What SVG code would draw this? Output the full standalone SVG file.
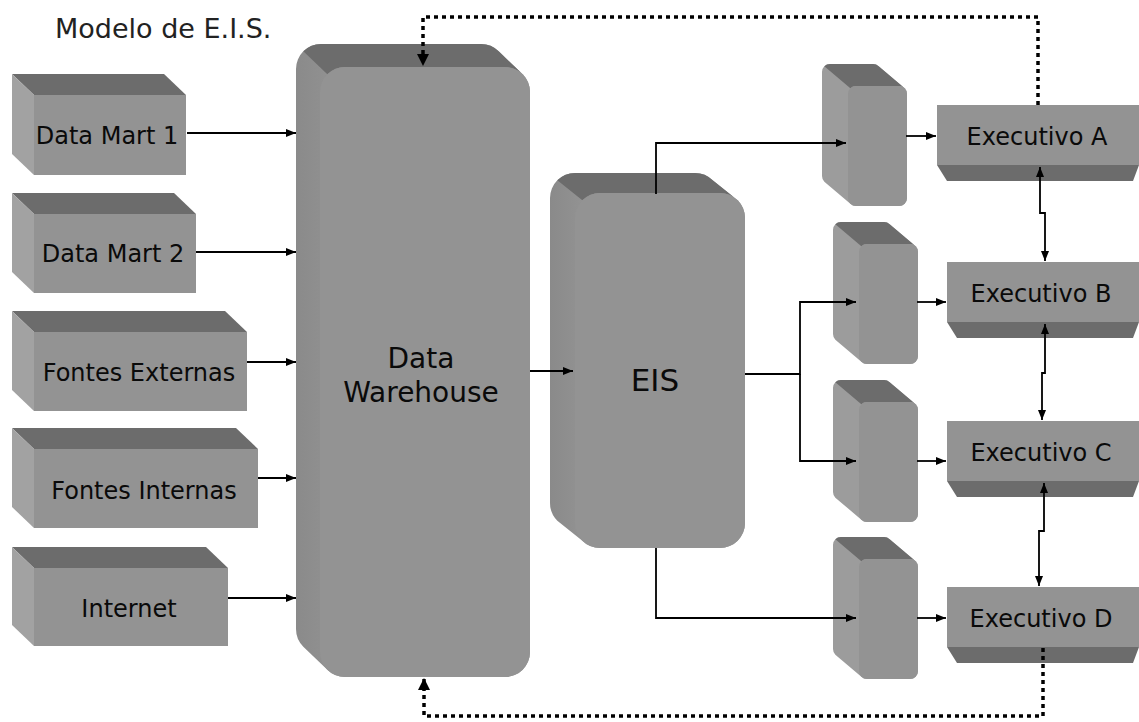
<svg xmlns="http://www.w3.org/2000/svg" width="1139" height="722" viewBox="0 0 1139 722">
<style>
.front{fill:#939393}
.top{fill:#6c6c6c}
.side{fill:#a2a2a2}
.sil{fill:url(#sideGrad)}
.lbl{font-family:"DejaVu Sans","Liberation Sans",sans-serif;font-size:24px;fill:#0a0a0a;text-anchor:middle}
.big{font-family:"DejaVu Sans","Liberation Sans",sans-serif;font-size:28px;fill:#0a0a0a;text-anchor:middle}
.title{font-family:"DejaVu Sans","Liberation Sans",sans-serif;font-size:27px;fill:#222}
.ln{fill:none;stroke:#000;stroke-width:1.8}
.dot{fill:none;stroke:#000;stroke-width:3.5;stroke-dasharray:4 4}
</style>
<defs>
<linearGradient id="sideGrad" x1="0" y1="0" x2="1" y2="0">
<stop offset="0" stop-color="#8a8a8a"/>
<stop offset="0.5" stop-color="#a3a3a3"/>
<stop offset="1" stop-color="#8e8e8e"/>
</linearGradient>
<marker id="ah" viewBox="0 0 10 8" refX="10" refY="4" markerWidth="10" markerHeight="8" markerUnits="userSpaceOnUse" orient="auto-start-reverse">
<path d="M0,0 L10,4 L0,8 Z" fill="#000"/>
</marker>
<marker id="dh" viewBox="0 0 12 12" refX="12" refY="6" markerWidth="13" markerHeight="12" markerUnits="userSpaceOnUse" orient="auto">
<path d="M0,0 L12,6 L0,12 Z" fill="#000"/>
</marker>
<g id="smallbox">
<path fill="#9c9c9c" d="M0,8 A8 8 0 0 1 8,0 L51,0 A8 8 0 0 1 56.66,2.34 L82.66,24.34 A8 8 0 0 1 85,30 L85,134 A8 8 0 0 1 77,142 L34,142 A8 8 0 0 1 28.34,139.66 L2.34,117.66 A8 8 0 0 1 0,112 Z"/>
<path class="top" d="M2.34,2.34 A8 8 0 0 1 8,0 L51,0 A8 8 0 0 1 56.66,2.34 L82.66,24.34 A8 8 0 0 0 77,22 L34,22 A8 8 0 0 0 28.34,24.34 Z"/>
<rect class="front" x="26" y="22" width="59" height="120" rx="8"/>
</g>
</defs>
<rect width="1139" height="722" fill="#fff"/>
<text class="title" x="55" y="38">Modelo de E.I.S.</text>

<g id="data-mart-1">
<polygon class="top" points="12,74 164,74 186,95 34,95"/>
<polygon class="side" points="12,74 34,95 34,175 12,154"/>
<rect class="front" x="34" y="95" width="152" height="80"/>
<text class="lbl" x="107" y="144">Data Mart 1</text>
</g>
<g id="data-mart-2">
<polygon class="top" points="12,193 174,193 196,214 34,214"/>
<polygon class="side" points="12,193 34,214 34,293 12,272"/>
<rect class="front" x="34" y="214" width="162" height="79"/>
<text class="lbl" x="113" y="262">Data Mart 2</text>
</g>
<g id="fontes-externas">
<polygon class="top" points="12,311 225,311 247,332 34,332"/>
<polygon class="side" points="12,311 34,332 34,411 12,390"/>
<rect class="front" x="34" y="332" width="213" height="79"/>
<text class="lbl" x="139" y="381">Fontes Externas</text>
</g>
<g id="fontes-internas">
<polygon class="top" points="12,428 236,428 258,449 34,449"/>
<polygon class="side" points="12,428 34,449 34,528 12,507"/>
<rect class="front" x="34" y="449" width="224" height="79"/>
<text class="lbl" x="144" y="499">Fontes Internas</text>
</g>
<g id="internet">
<polygon class="top" points="12,547 206,547 228,568 34,568"/>
<polygon class="side" points="12,547 34,568 34,646 12,625"/>
<rect class="front" x="34" y="568" width="194" height="78"/>
<text class="lbl" x="129" y="617">Internet</text>
</g>

<g id="data-warehouse">
<path class="sil" d="M296,69 A25 25 0 0 1 321,44 L481,44 A25 25 0 0 1 498.68,51.32 L522.68,74.32 A25 25 0 0 1 530,92 L530,652 A25 25 0 0 1 505,677 L345,677 A25 25 0 0 1 327.32,669.68 L303.32,646.68 A25 25 0 0 1 296,629 Z"/>
<path class="top" d="M303.32,51.32 A25 25 0 0 1 321,44 L481,44 A25 25 0 0 1 498.68,51.32 L522.68,74.32 A25 25 0 0 0 505,67 L345,67 A25 25 0 0 0 327.32,74.32 Z"/>
<rect class="front" x="320" y="67" width="210" height="610" rx="25"/>
<text class="big" x="421" y="368">Data</text>
<text class="big" x="421" y="402">Warehouse</text>
</g>

<g id="eis">
<path class="sil" d="M550,198 A25 25 0 0 1 575,173 L695,173 A25 25 0 0 1 712.68,180.32 L737.68,200.32 A25 25 0 0 1 745,218 L745,523 A25 25 0 0 1 720,548 L600,548 A25 25 0 0 1 582.32,540.68 L557.32,520.68 A25 25 0 0 1 550,503 Z"/>
<path class="top" d="M557.32,180.32 A25 25 0 0 1 575,173 L695,173 A25 25 0 0 1 712.68,180.32 L737.68,200.32 A25 25 0 0 0 720,193 L600,193 A25 25 0 0 0 582.32,200.32 Z"/>
<rect class="front" x="575" y="193" width="170" height="355" rx="25"/>
<text class="big" x="655" y="391" style="font-size:31px">EIS</text>
</g>

<g id="terminal-a"><use href="#smallbox" transform="translate(822,64)"/></g>
<g id="terminal-b"><use href="#smallbox" transform="translate(833,222)"/></g>
<g id="terminal-c"><use href="#smallbox" transform="translate(833,380)"/></g>
<g id="terminal-d"><use href="#smallbox" transform="translate(833,537)"/></g>

<g id="executivo-a">
<rect class="front" x="937" y="105" width="202" height="60"/>
<polygon class="top" points="937,165 1139,165 1133,181 947,181"/>
<text class="lbl" x="1037" y="145">Executivo A</text>
</g>
<g id="executivo-b">
<rect class="front" x="947" y="262" width="192" height="60"/>
<polygon class="top" points="947,322 1139,322 1133,338 957,338"/>
<text class="lbl" x="1041" y="302">Executivo B</text>
</g>
<g id="executivo-c">
<rect class="front" x="947" y="421" width="192" height="60"/>
<polygon class="top" points="947,481 1139,481 1133,497 957,497"/>
<text class="lbl" x="1041" y="461">Executivo C</text>
</g>
<g id="executivo-d">
<rect class="front" x="947" y="587" width="192" height="60"/>
<polygon class="top" points="947,647 1139,647 1133,663 957,663"/>
<text class="lbl" x="1041" y="627">Executivo D</text>
</g>

<g id="connectors">
<path class="ln" marker-end="url(#ah)" d="M187,133 H296"/>
<path class="ln" marker-end="url(#ah)" d="M196,252 H296"/>
<path class="ln" marker-end="url(#ah)" d="M247,362 H296"/>
<path class="ln" marker-end="url(#ah)" d="M258,478 H296"/>
<path class="ln" marker-end="url(#ah)" d="M228,598 H296"/>
<path class="ln" marker-end="url(#ah)" d="M530,371 H573"/>
<path class="ln" marker-end="url(#ah)" d="M656,194 V143 H846"/>
<path class="ln" marker-end="url(#ah)" d="M745,374 H800 V302 H856"/>
<path class="ln" marker-end="url(#ah)" d="M800,374 V461 H856"/>
<path class="ln" marker-end="url(#ah)" d="M656,548 V618 H856"/>
<path class="ln" marker-end="url(#ah)" d="M906,136 H936"/>
<path class="ln" marker-end="url(#ah)" d="M917,302 H946"/>
<path class="ln" marker-end="url(#ah)" d="M917,461 H946"/>
<path class="ln" marker-end="url(#ah)" d="M917,618 H946"/>
<path class="ln" marker-start="url(#ah)" marker-end="url(#ah)" d="M1040,167 V213 H1045 V261"/>
<path class="ln" marker-start="url(#ah)" marker-end="url(#ah)" d="M1045,324 V373 H1042 V420"/>
<path class="ln" marker-start="url(#ah)" marker-end="url(#ah)" d="M1044,483 V531 H1039 V586"/>
<path class="dot" marker-end="url(#dh)" d="M1038,105 V17 H423 V66"/>
<path class="dot" marker-end="url(#dh)" d="M1043,648 V716 H424 V678"/>
</g>
</svg>
